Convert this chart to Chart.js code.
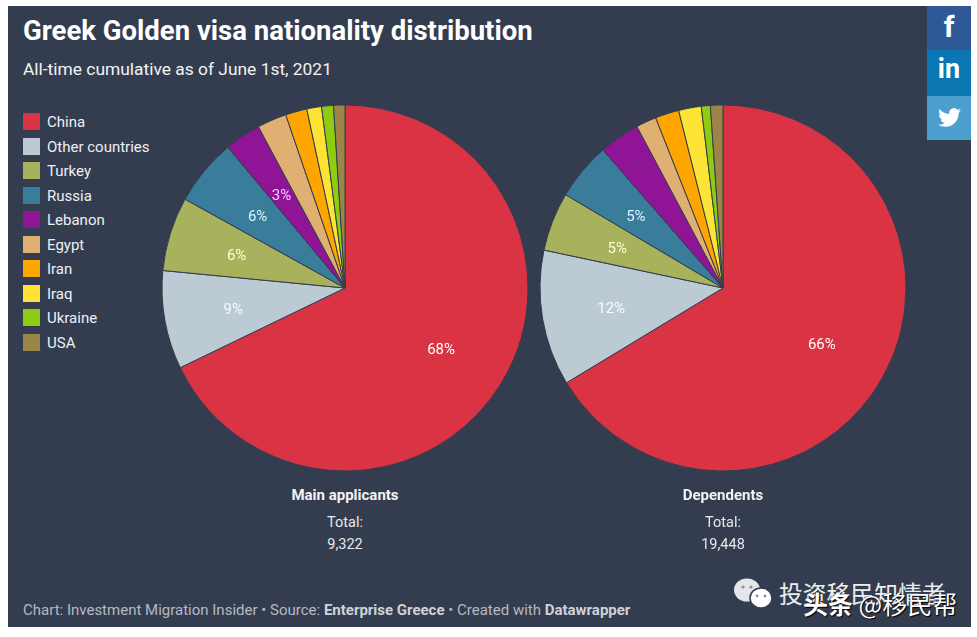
<!DOCTYPE html>
<html>
<head>
<meta charset="utf-8">
<script src="https://cdn.jsdelivr.net/npm/chart.js@4"></script>
<style>
  html, body { margin: 0; padding: 0; background: #fff; }
  body { width: 977px; height: 637px; position: relative; overflow: hidden; font-family: Roboto, sans-serif; color: #fff; }
  #panel { position: absolute; left: 8px; top: 6px; width: 963px; height: 621px; background: #343d4f; }
  .abs { position: absolute; white-space: nowrap; line-height: 1; }
  .mid { transform: translateX(-50%); }
  canvas { position: absolute; }
  .swatch { position: absolute; left: 23px; width: 17px; height: 17px; }
  .social { position: absolute; left: 927px; width: 44px; text-align: center; font-weight: 700; }
</style>
</head>
<body>
<div id="panel"></div>

<div class="abs" style="left:23px;top:17px;font-size:27.5px;font-weight:700">Greek Golden visa nationality distribution</div>
<div class="abs" style="left:23px;top:61px;font-size:17.4px;color:#f2f3f5">All-time cumulative as of June 1st, 2021</div>

<div id="legend"></div>

<canvas id="pieMain" width="380" height="380" style="left:155px;top:98px;width:380px;height:380px"></canvas>
<canvas id="pieDep" width="380" height="380" style="left:533px;top:98px;width:380px;height:380px"></canvas>

<div class="abs mid" style="left:345px;top:488px;font-size:15px;font-weight:700;color:#f2f3f5">Main applicants</div>
<div class="abs mid" style="left:345px;top:516px;font-size:14.5px;color:#e6e8ec">Total:</div>
<div class="abs mid" style="left:345px;top:538px;font-size:14.5px;color:#e6e8ec">9,322</div>
<div class="abs mid" style="left:723px;top:488px;font-size:15px;font-weight:700;color:#f2f3f5">Dependents</div>
<div class="abs mid" style="left:723px;top:516px;font-size:14.5px;color:#e6e8ec">Total:</div>
<div class="abs mid" style="left:723px;top:538px;font-size:14.5px;color:#e6e8ec">19,448</div>

<div class="abs" style="left:23px;top:603px;font-size:15px;color:#b4b9c3">Chart: Investment Migration Insider • Source: <b style="color:#cfd2d8">Enterprise Greece</b> • Created with <b style="color:#cfd2d8">Datawrapper</b></div>

<div class="social" style="top:6px;height:44px;background:#2f5896;font-size:30px;line-height:42px">f</div>
<div class="social" style="top:50px;height:46px;background:#0a77b3;font-size:27px;line-height:38px">in</div>
<div class="social" style="top:96px;height:44px;background:#4a9fcf">
  <svg width="23" height="23" viewBox="0 0 24 24" style="margin-top:10px"><path fill="#fff" d="M23.953 4.57a10 10 0 01-2.825.775 4.958 4.958 0 002.163-2.723c-.951.555-2.005.959-3.127 1.184a4.92 4.92 0 00-8.384 4.482C7.69 8.095 4.067 6.13 1.64 3.162a4.822 4.822 0 00-.666 2.475c0 1.71.87 3.213 2.188 4.096a4.904 4.904 0 01-2.228-.616v.06a4.923 4.923 0 003.946 4.827 4.996 4.996 0 01-2.212.085 4.936 4.936 0 004.604 3.417 9.867 9.867 0 01-6.102 2.105c-.39 0-.779-.023-1.17-.067a13.995 13.995 0 007.557 2.209c9.053 0 13.998-7.496 13.998-13.985 0-.21 0-.42-.015-.63A9.935 9.935 0 0024 4.59z"/></svg>
</div>

<!-- watermark -->
<svg class="abs" style="left:733px;top:578px" width="42" height="32" viewBox="0 0 42 32">
  <ellipse cx="14" cy="12" rx="13" ry="11.5" fill="#e4e6ea"/>
  <ellipse cx="28" cy="20" rx="11" ry="10" fill="#fff" stroke="#343d4f" stroke-width="1.5"/>
  <circle cx="24" cy="18" r="1.4" fill="#8a8f9a"/><circle cx="32" cy="18" r="1.4" fill="#8a8f9a"/>
  <circle cx="10" cy="9" r="1.6" fill="#8a8f9a"/><circle cx="18" cy="9" r="1.6" fill="#8a8f9a"/>
</svg>
<div class="abs" style="left:779px;top:581px;font-family:'Noto Sans CJK SC';font-size:23.8px;color:#eceef0">投资移民知情者</div>
<div class="abs" style="left:803px;top:591px;font-family:'Noto Sans CJK SC';font-size:25px;color:#fff;text-shadow:0 0 1px #000,1px 1px 1px #000"><b>头条</b> @移民帮</div>

<script>
const categories = ['China', 'Other countries', 'Turkey', 'Russia', 'Lebanon', 'Egypt', 'Iran', 'Iraq', 'Ukraine', 'USA'];
const colors = ['#d93344', '#bccbd3', '#a8b15c', '#3a7d9a', '#8f1496', '#e0af72', '#ffa500', '#fde334', '#8fcb10', '#9c8547'];
const labelColors = ['#ffffff', '#f4fbff', '#fbffd8', '#d8f4ff', '#ffc8ff', '', '', '', '', ''];

const mainValues = [67.9, 8.7, 6.55, 5.9, 3.2, 2.6, 1.9, 1.3, 1.05, 1.0];
const depValues = [66.4, 12.0, 5.2, 5.1, 3.6, 1.8, 2.1, 2.0, 0.8, 1.1];
const mainLabels = ['68%', '9%', '6%', '6%', '3%', '', '', '', '', ''];
const depLabels = ['66%', '12%', '5%', '5%', '', '', '', '', '', ''];

// legend
const legendEl = document.getElementById('legend');
categories.forEach(function (name, i) {
  const y = 113 + i * 24.5;
  legendEl.innerHTML += '<div class="swatch" style="top:' + y + 'px;background:' + colors[i] + '"></div>' +
    '<div class="abs" style="left:47px;top:' + (y + 2) + 'px;font-size:15px;color:#eef0f3">' + name + '</div>';
});

// percent labels on the slices
const sliceLabels = {
  id: 'sliceLabels',
  afterDatasetsDraw(chart, args, opts) {
    const ctx = chart.ctx;
    ctx.save();
    ctx.font = '15px Roboto';
    ctx.textAlign = 'center';
    ctx.textBaseline = 'middle';
    chart.getDatasetMeta(0).data.forEach(function (arc, i) {
      if (!opts.texts[i]) return;
      const mid = (arc.startAngle + arc.endAngle) / 2;
      ctx.fillStyle = labelColors[i];
      ctx.fillText(opts.texts[i], arc.x + Math.cos(mid) * arc.outerRadius * 0.62, arc.y + Math.sin(mid) * arc.outerRadius * 0.62 + 2);
    });
    ctx.restore();
  }
};

function makePie(id, values, texts) {
  new Chart(document.getElementById(id), {
    type: 'pie',
    data: {
      labels: categories,
      datasets: [{
        data: values,
        backgroundColor: colors,
        borderColor: '#343d4f',
        borderWidth: 1
      }]
    },
    options: {
      responsive: false,
      animation: false,
      radius: 183,
      layout: { padding: 0 },
      plugins: {
        legend: { display: false },
        tooltip: { enabled: false },
        sliceLabels: { texts: texts }
      }
    },
    plugins: [sliceLabels]
  });
}

makePie('pieMain', mainValues, mainLabels);
makePie('pieDep', depValues, depLabels);
</script>
</body>
</html>
